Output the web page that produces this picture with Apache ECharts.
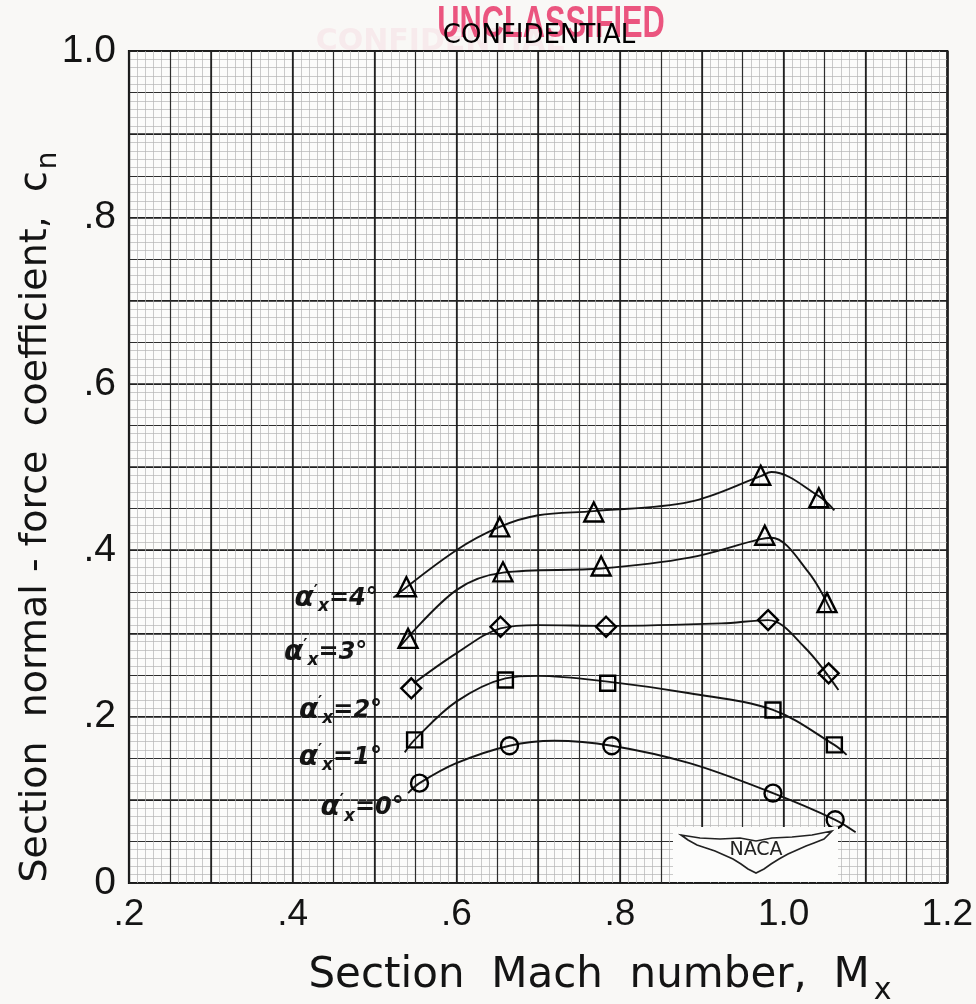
<!DOCTYPE html>
<html>
<head>
<meta charset="utf-8">
<script src="https://cdn.jsdelivr.net/npm/echarts@6/dist/echarts.min.js"></script>
<style>
html,body{margin:0;padding:0;background:#f9f8f6;}
#chart{width:976px;height:1004px;}
</style>
</head>
<body>
<div id="chart"></div>
<script>
// ---- Data ----
const xTickValues = [0.2, 0.4, 0.6, 0.8, 1.0, 1.2];
const xTickLabels = ['.2', '.4', '.6', '.8', '1.0', '1.2'];
const yTickValues = [0, 0.2, 0.4, 0.6, 0.8, 1.0];
const yTickLabels = ['0', '.2', '.4', '.6', '.8', '1.0'];

const angleLabels = ['4°', '3°', '2°', '1°', '0°'];

// measured points (Mach, cn)
const mach4 = [0.539, 0.653, 0.768, 0.972, 1.043];
const cn4   = [0.356, 0.428, 0.446, 0.490, 0.463];
const mach3 = [0.541, 0.657, 0.777, 0.977, 1.053];
const cn3   = [0.294, 0.374, 0.381, 0.418, 0.337];
const mach2 = [0.545, 0.654, 0.783, 0.981, 1.055];
const cn2   = [0.234, 0.308, 0.308, 0.316, 0.252];
const mach1 = [0.549, 0.660, 0.785, 0.987, 1.062];
const cn1   = [0.172, 0.244, 0.240, 0.208, 0.166];
const mach0 = [0.555, 0.665, 0.790, 0.987, 1.063];
const cn0   = [0.120, 0.165, 0.165, 0.108, 0.076];

// faired curves
const curveMach4 = [0.523, 0.600, 0.653, 0.700, 0.768, 0.885, 0.972, 0.985, 1.043, 1.062];
const curveCn4   = [0.343, 0.400, 0.428, 0.442, 0.447, 0.458, 0.489, 0.494, 0.465, 0.448];
const curveMach3 = [0.531, 0.600, 0.657, 0.777, 0.885, 0.970, 0.985, 1.030, 1.059];
const curveCn3   = [0.284, 0.352, 0.373, 0.378, 0.391, 0.413, 0.415, 0.374, 0.325];
const curveMach2 = [0.548, 0.600, 0.654, 0.700, 0.783, 0.924, 0.981, 1.025, 1.067];
const curveCn2   = [0.240, 0.276, 0.306, 0.310, 0.309, 0.312, 0.316, 0.284, 0.232];
const curveMach1 = [0.537, 0.549, 0.600, 0.660, 0.700, 0.785, 0.885, 0.987, 1.062, 1.077];
const curveCn1   = [0.157, 0.172, 0.218, 0.246, 0.249, 0.242, 0.228, 0.208, 0.166, 0.154];
const curveMach0 = [0.541, 0.555, 0.600, 0.665, 0.720, 0.790, 0.885, 0.987, 1.063, 1.088];
const curveCn0   = [0.108, 0.120, 0.144, 0.165, 0.171, 0.165, 0.144, 0.108, 0.076, 0.061];

// ---- Build ----
const zip = (a, b) => a.map((v, i) => [v, b[i]]);
const FONT = 'DejaVu Sans';
const INK = '#141414';

const pointSets = [
  {m: mach4, c: cn4, cm: curveMach4, cc: curveCn4, sym: 'triangle', size: 19, dist: 18, off: [0, 12]},
  {m: mach3, c: cn3, cm: curveMach3, cc: curveCn3, sym: 'triangle', size: 19, dist: 30, off: [0, 14]},
  {m: mach2, c: cn2, cm: curveMach2, cc: curveCn2, sym: 'diamond', size: 20, dist: 18, off: [0, 22]},
  {m: mach1, c: cn1, cm: curveMach1, cc: curveCn1, sym: 'rect', size: 15, dist: 24, off: [0, 18]},
  {m: mach0, c: cn0, cm: curveMach0, cc: curveCn0, sym: 'circle', size: 17, dist: 12, off: [6, 25]}
];

const labelRich = {
  a: {fontSize: 28, fontWeight: 'bold', fontStyle: 'italic', fontFamily: FONT, color: INK},
  p: {fontSize: 16, fontWeight: 'bold', fontFamily: FONT, color: INK, padding: [0, 0, 14, 0]},
  x: {fontSize: 17, fontWeight: 'bold', fontStyle: 'italic', fontFamily: FONT, color: INK, padding: [16, 0, 0, 0]},
  t: {fontSize: 24, fontWeight: 'bold', fontStyle: 'italic', fontFamily: FONT, color: INK}
};

const series = [];
pointSets.forEach((s, i) => {
  series.push({
    type: 'line',
    data: zip(s.cm, s.cc),
    smooth: 0.35,
    showSymbol: false,
    lineStyle: {color: INK, width: 1.9},
    silent: true,
    z: 3
  });
  const pts = zip(s.m, s.c).map((v, j) => {
    if (j !== 0) return v;
    return {
      value: v,
      label: {
        show: true,
        position: 'left',
        distance: s.dist,
        offset: s.off,
        color: INK,
        formatter: '{a|α}{p|′}{x|x}{t|=' + angleLabels[i] + '}',
        rich: labelRich
      }
    };
  });
  series.push({
    type: 'scatter',
    data: pts,
    symbol: s.sym,
    symbolSize: s.size,
    itemStyle: {color: 'rgba(255,255,255,0)', borderColor: '#000', borderWidth: 2.4, opacity: 1},
    z: 4
  });
});

function lookup(vals, labs, v) {
  for (let i = 0; i < vals.length; i++) if (Math.abs(vals[i] - v) < 1e-6) return labs[i];
  return '';
}

const chart = echarts.init(document.getElementById('chart'), null, {renderer: 'canvas'});

const axisBase = {type: 'value', axisLine: {show: false}, axisTick: {show: false}};
const option = {
  backgroundColor: '#f9f8f6',
  animation: false,
  grid: {left: 129, right: 13, top: 51, bottom: 121, show: true, borderColor: '#111', borderWidth: 2.2, backgroundColor: '#fcfcfb'},
  xAxis: [
    Object.assign({}, axisBase, {
      min: 0.2, max: 1.2, interval: 0.05, position: 'bottom',
      axisLabel: {formatter: v => lookup(xTickValues, xTickLabels, v), fontSize: 37, fontFamily: 'Liberation Sans', color: INK, margin: 13, showMinLabel: true, showMaxLabel: true},
      splitLine: {show: true, lineStyle: {color: '#2e2e2e', width: 1.2}},
      minorTick: {show: false, splitNumber: 5},
      minorSplitLine: {show: true, lineStyle: {color: '#b4b4b4', width: 0.7}}
    }),
    Object.assign({}, axisBase, {
      min: 0.2, max: 1.2, interval: 0.1, position: 'top',
      axisLabel: {show: false},
      splitLine: {show: true, lineStyle: {color: '#1e1e1e', width: 1.5}}
    })
  ],
  yAxis: [
    Object.assign({}, axisBase, {
      min: 0, max: 1.0, interval: 0.05, position: 'left',
      axisLabel: {formatter: v => lookup(yTickValues, yTickLabels, v), fontSize: 39, fontFamily: 'Liberation Sans', color: INK, margin: 13, showMinLabel: true, showMaxLabel: true},
      splitLine: {show: true, lineStyle: {color: '#2e2e2e', width: 1.2}},
      minorTick: {show: false, splitNumber: 5},
      minorSplitLine: {show: true, lineStyle: {color: '#b4b4b4', width: 0.7}}
    }),
    Object.assign({}, axisBase, {
      min: 0, max: 1.0, interval: 0.1, position: 'right',
      axisLabel: {show: false},
      splitLine: {show: true, lineStyle: {color: '#1e1e1e', width: 1.5}}
    })
  ],
  series: series,
  graphic: [
    // NACA emblem box
    {type: 'rect', shape: {x: 673, y: 827, width: 165, height: 55}, style: {fill: '#fcfcfb'}, z: 5},
    {type: 'polygon', shape: {points: [
      [681, 835], [700, 838], [720, 839], [740, 838], [756, 841], [772, 838], [792, 837], [812, 835], [832, 831],
      [824, 839], [814, 843], [806, 846], [797, 850], [788, 854], [779, 859], [771, 864], [764, 869], [756, 873],
      [748, 869], [741, 864], [733, 859], [724, 855], [715, 851], [706, 848], [697, 845], [688, 840]
    ]}, style: {fill: '#fcfcfb', stroke: '#222', lineWidth: 1.6}, z: 6},
    {type: 'text', x: 756, y: 850, style: {text: 'NACA', fontSize: 19, fontFamily: FONT, fill: '#222', align: 'center', verticalAlign: 'middle'}, z: 7},
    // stamps
    {type: 'text', x: 440, y: 42, style: {text: 'CONFIDENTIAL', fontSize: 30, fontWeight: 'bold', fontFamily: FONT, fill: 'rgba(236,140,165,0.12)', align: 'center', verticalAlign: 'middle'}, z: 1},
    {type: 'text', x: 551, y: 25, scaleX: 0.7, style: {text: 'UNCLASSIFIED', fontSize: 44, fontWeight: 'bold', fontFamily: 'Liberation Sans', fill: 'rgba(232,62,110,0.88)', align: 'center', verticalAlign: 'middle'}, z: 8},
    {type: 'text', x: 539, y: 36, style: {text: 'CONFIDENTIAL', fontSize: 26, fontFamily: FONT, fill: '#000', align: 'center', verticalAlign: 'middle'}, z: 9},
    // axis titles
    {type: 'text', x: 600, y: 976, style: {text: 'Section  Mach  number,  M{s|x}', fontSize: 42, fontFamily: FONT, fill: INK, align: 'center', verticalAlign: 'middle',
      rich: {s: {fontSize: 30, fontFamily: FONT, color: INK, padding: [30, 0, 0, 4]}}}, z: 9},
    {type: 'text', x: 36, y: 517, rotation: Math.PI / 2, style: {text: 'Section  normal - force  coefficient,  c{s|n}', fontSize: 38, fontFamily: FONT, fill: INK, align: 'center', verticalAlign: 'middle',
      rich: {s: {fontSize: 28, fontFamily: FONT, color: INK, padding: [26, 0, 0, 2]}}}, z: 9}
  ]
};
chart.setOption(option);
</script>
</body>
</html>
